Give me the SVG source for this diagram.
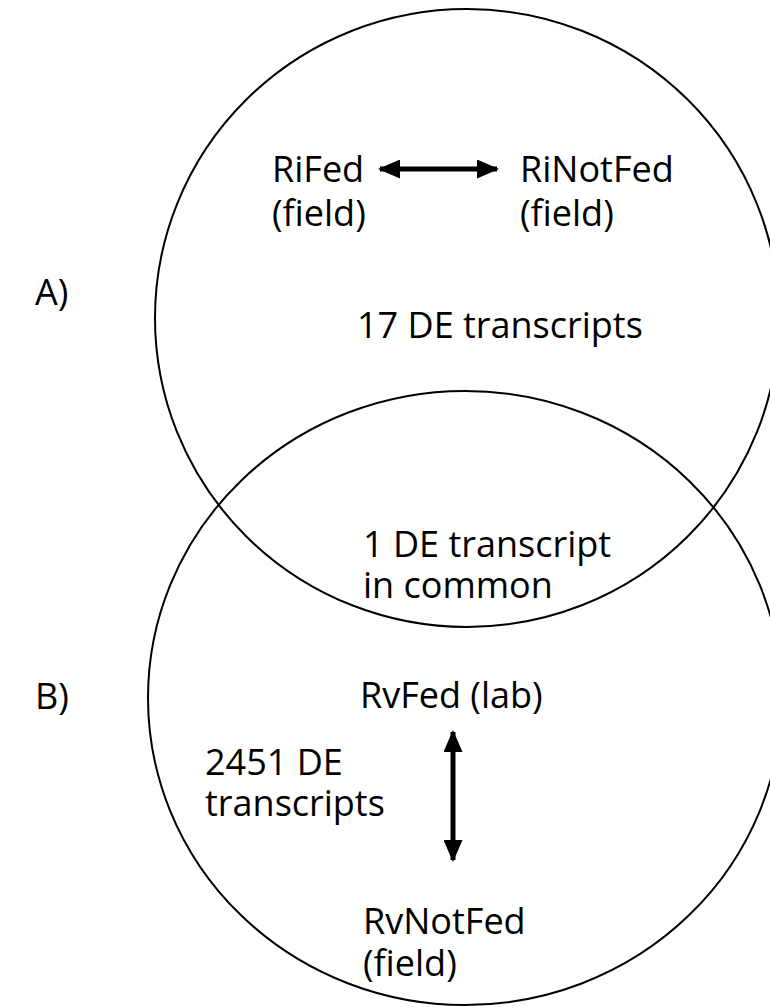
<svg xmlns="http://www.w3.org/2000/svg" width="770" height="1008" viewBox="0 0 770 1008">
  <style>
    .set { fill: none; stroke: #000; stroke-width: 2; }
    .lbl { font-family: "Open Sans", "Liberation Sans", sans-serif; font-size: 36px; fill: #000; }
    .arr { stroke: #000; stroke-width: 5; fill: none; }
  </style>
  <defs>
    <marker id="head" markerUnits="userSpaceOnUse" markerWidth="22" markerHeight="19" refX="20" refY="9.5" orient="auto-start-reverse" viewBox="0 0 22 19">
      <path d="M0,0 L22,9.5 L0,19 Z" fill="#000"/>
    </marker>
  </defs>
  <rect x="0" y="0" width="770" height="1008" fill="#fff"/>

  <g id="setA">
    <ellipse class="set" cx="467" cy="318" rx="312" ry="309"/>
  </g>
  <g id="setB">
    <ellipse class="set" cx="465" cy="698" rx="317" ry="307"/>
  </g>

  <g id="connectors">
    <line class="arr" x1="380" y1="169" x2="497" y2="169" marker-start="url(#head)" marker-end="url(#head)"/>
    <line class="arr" x1="453" y1="732" x2="453" y2="860" marker-start="url(#head)" marker-end="url(#head)"/>
  </g>

  <g id="label-A"><text class="lbl" x="35" y="305">A)</text></g>
  <g id="label-B"><text class="lbl" x="35" y="709">B)</text></g>

  <g id="node-rifed">
    <text class="lbl" x="272" y="182">RiFed</text>
    <text class="lbl" x="272" y="226">(field)</text>
  </g>
  <g id="node-rinotfed">
    <text class="lbl" x="520" y="182">RiNotFed</text>
    <text class="lbl" x="520" y="226">(field)</text>
  </g>
  <g id="count-A">
    <text class="lbl" x="357" y="338">17 DE transcripts</text>
  </g>
  <g id="count-common">
    <text class="lbl" x="363" y="557">1 DE transcript</text>
    <text class="lbl" x="363" y="598">in common</text>
  </g>
  <g id="node-rvfed">
    <text class="lbl" x="360" y="708">RvFed (lab)</text>
  </g>
  <g id="count-B">
    <text class="lbl" x="205" y="775">2451 DE</text>
    <text class="lbl" x="205" y="816">transcripts</text>
  </g>
  <g id="node-rvnotfed">
    <text class="lbl" x="363" y="934">RvNotFed</text>
    <text class="lbl" x="363" y="976">(field)</text>
  </g>
</svg>
